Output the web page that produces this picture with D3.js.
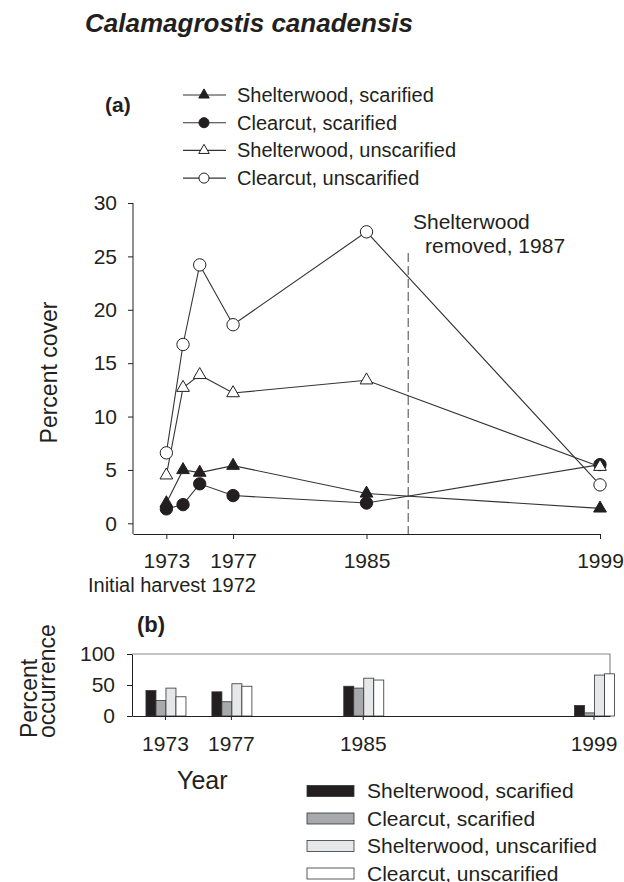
<!DOCTYPE html>
<html>
<head>
<meta charset="utf-8">
<script src="https://cdn.jsdelivr.net/npm/d3@7"></script>
<style>
  body { margin: 0; background: #fff; }
  text { font-family: "Liberation Sans", Arial, sans-serif; fill: #231f20; }
</style>
</head>
<body>
<script>
// (a) percent cover
const years = [1973, 1974, 1975, 1977, 1985, 1999];
const swScar   = [1.9, 5.0, 4.75, 5.4, 2.8, 1.4];
const ccScar   = [1.35, 1.75, 3.7, 2.6, 1.9, 5.5];
const swUnscar = [4.5, 12.7, 13.9, 12.2, 13.4, 5.3];
const ccUnscar = [6.6, 16.75, 24.2, 18.6, 27.3, 3.6];

// (b) percent occurrence
const barYears = [1973, 1977, 1985, 1999];
const occSwScar   = [41, 39, 48, 17];
const occCcScar   = [25, 23, 45, 5];
const occSwUnscar = [45, 52, 61, 66];
const occCcUnscar = [31, 48, 58, 68];

const names = ["Shelterwood, scarified", "Clearcut, scarified",
               "Shelterwood, unscarified", "Clearcut, unscarified"];
const xTicks = [1973, 1977, 1985, 1999];
const coverTicks = [0, 5, 10, 15, 20, 25, 30];
const occTicks = [0, 50, 100];

const ink = "#231f20";
const width = 624, height = 882;

const svg = d3.select("body").append("svg")
    .attr("width", width)
    .attr("height", height);

svg.append("text")
    .attr("x", 85).attr("y", 32)
    .attr("font-size", 26).attr("font-weight", "bold").attr("font-style", "italic")
    .text("Calamagrostis canadensis");

// ---------- panel (a) ----------
const x = d3.scaleLinear().domain([1971, 1999]).range([133, 600]);
const y = d3.scaleLinear().domain([-1, 30]).range([534, 203]);

const lineSeries = [
  {name: names[0], values: swScar,   shape: d3.symbolTriangle, fill: ink},
  {name: names[1], values: ccScar,   shape: d3.symbolCircle,   fill: ink},
  {name: names[2], values: swUnscar, shape: d3.symbolTriangle, fill: "#fff"},
  {name: names[3], values: ccUnscar, shape: d3.symbolCircle,   fill: "#fff"}
];

const yAxis = svg.append("g")
    .attr("transform", `translate(${x.range()[0]},0)`)
    .call(d3.axisLeft(y).tickValues(coverTicks).tickSize(5).tickPadding(11).tickSizeOuter(0));
yAxis.select(".domain").remove();
yAxis.append("line")
    .attr("y1", y(30)).attr("y2", y(-1))
    .attr("stroke", ink);

const xAxis = svg.append("g")
    .attr("transform", `translate(0,${y(-1)})`)
    .call(d3.axisBottom(x).tickValues(xTicks).tickFormat(d3.format("d")).tickSize(5).tickPadding(14).tickSizeOuter(0));

svg.selectAll(".tick text").attr("font-size", 21).attr("font-family", null).attr("fill", ink);
svg.selectAll(".tick line, .domain").attr("stroke", ink);

svg.append("text")
    .attr("transform", `translate(57,${(y(30) + y(-1)) / 2 + 4}) rotate(-90)`)
    .attr("text-anchor", "middle")
    .attr("font-size", 23)
    .text("Percent cover");

svg.append("text")
    .attr("x", 88).attr("y", 592)
    .attr("font-size", 20)
    .text("Initial harvest 1972");

// shelterwood removal
svg.append("line")
    .attr("x1", x(1987.5)).attr("x2", x(1987.5))
    .attr("y1", 253).attr("y2", y(-1))
    .attr("stroke", "#444").attr("stroke-width", 1)
    .attr("stroke-dasharray", "9,4");
svg.append("text").attr("x", 413).attr("y", 229).attr("font-size", 21).text("Shelterwood");
svg.append("text").attr("x", 425).attr("y", 253).attr("font-size", 21).text("removed, 1987");

const line = d3.line().x((d, i) => x(years[i])).y(d => y(d));

const sg = svg.append("g").selectAll("g")
  .data(lineSeries)
  .join("g");

sg.append("path")
    .attr("d", d => line(d.values))
    .attr("fill", "none")
    .attr("stroke", "#333")
    .attr("stroke-width", 1.1);

sg.each(function(s) {
  d3.select(this).selectAll("path.pt")
    .data(s.values)
    .join("path")
      .attr("class", "pt")
      .attr("transform", (d, i) => `translate(${x(years[i])},${y(d)})`)
      .attr("d", d3.symbol(s.shape, s.shape === d3.symbolCircle ? 120 : 70))
      .attr("fill", s.fill)
      .attr("stroke", ink)
      .attr("stroke-width", 1);
});

// legend (a)
svg.append("text")
    .attr("x", 105).attr("y", 112)
    .attr("font-size", 21).attr("font-weight", "bold")
    .text("(a)");

const lg = svg.append("g").selectAll("g")
  .data(lineSeries)
  .join("g")
    .attr("transform", (d, i) => `translate(183,${95 + i * 27.7})`);
lg.append("line").attr("x1", 0).attr("x2", 43).attr("stroke", "#333").attr("stroke-width", 1.1);
lg.append("path")
    .attr("transform", "translate(21,0)")
    .attr("d", d => d3.symbol(d.shape, d.shape === d3.symbolCircle ? 80 : 48)())
    .attr("fill", d => d.fill)
    .attr("stroke", ink);
lg.append("text")
    .attr("x", 54).attr("dy", "0.35em")
    .attr("font-size", 20)
    .text(d => d.name);

// ---------- panel (b) ----------
const xb = d3.scaleLinear().domain([1971, 2000]).range([132, 610]);
const yb = d3.scaleLinear().domain([0, 100]).range([716, 654]);

const barSeries = [
  {name: names[0], values: occSwScar,   fill: ink},
  {name: names[1], values: occCcScar,   fill: "#a7a9ac"},
  {name: names[2], values: occSwUnscar, fill: "#e6e7e8"},
  {name: names[3], values: occCcUnscar, fill: "#ffffff"}
];
const inner = d3.scaleBand().domain(d3.range(barSeries.length)).range([-19, 21]);

// frame top and right
svg.append("path")
    .attr("d", `M${xb(1971)},${yb(100)}H${xb(2000)}V${yb(0)}`)
    .attr("fill", "none").attr("stroke", "#8a8a8a").attr("stroke-width", 1.2);

svg.append("g").selectAll("g")
  .data(barSeries)
  .join("g")
    .attr("fill", d => d.fill)
  .selectAll("rect")
  .data((d, si) => d.values.map((v, i) => ({v, year: barYears[i], si})))
  .join("rect")
    .attr("x", d => xb(d.year) + inner(d.si))
    .attr("width", inner.bandwidth())
    .attr("y", d => yb(d.v))
    .attr("height", d => yb(0) - yb(d.v))
    .attr("stroke", "#333")
    .attr("stroke-width", 0.8);

const ybAxis = svg.append("g")
    .attr("transform", `translate(${xb(1971)},0)`)
    .call(d3.axisLeft(yb).tickValues(occTicks).tickSize(5).tickPadding(12).tickSizeOuter(0));
const xbAxis = svg.append("g")
    .attr("transform", `translate(0,${yb(0)})`)
    .call(d3.axisBottom(xb).tickValues(xTicks).tickFormat(d3.format("d")).tickSize(4).tickPadding(16).tickSizeOuter(0));
[ybAxis, xbAxis].forEach(a => {
  a.selectAll(".tick text").attr("font-size", 21).attr("font-family", null).attr("fill", ink);
  a.selectAll(".tick line, .domain").attr("stroke", ink);
});

svg.append("text")
    .attr("x", 137).attr("y", 632)
    .attr("font-size", 22).attr("font-weight", "bold")
    .text("(b)");

svg.append("text")
    .attr("transform", "translate(37,738) rotate(-90)")
    .attr("font-size", 23)
    .text("Percent");
svg.append("text")
    .attr("transform", "translate(55,738) rotate(-90)")
    .attr("font-size", 23)
    .text("occurrence");

svg.append("text")
    .attr("x", 177).attr("y", 789)
    .attr("font-size", 25)
    .text("Year");

// legend (b)
const bl = svg.append("g").selectAll("g")
  .data(barSeries)
  .join("g")
    .attr("transform", (d, i) => `translate(307,${791 + i * 27.5})`);
bl.append("rect")
    .attr("y", -5.5).attr("width", 47).attr("height", 11)
    .attr("fill", d => d.fill)
    .attr("stroke", "#333").attr("stroke-width", 0.8);
bl.append("text")
    .attr("x", 60).attr("dy", "0.35em")
    .attr("font-size", 21)
    .text(d => d.name);
</script>
</body>
</html>
